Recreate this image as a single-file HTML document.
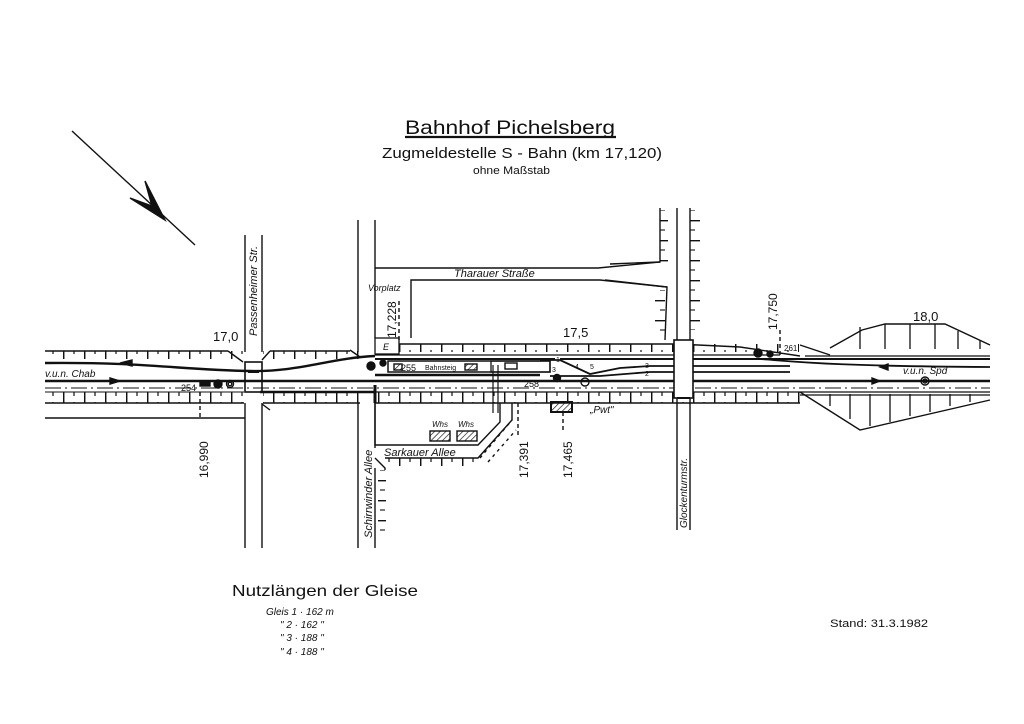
<!DOCTYPE html>
<html><head><meta charset="utf-8"><style>
html,body{margin:0;padding:0;background:#fff}
svg{display:block}
text{font-family:"Liberation Sans",sans-serif;fill:#111}
.i{font-style:italic}
</style></head><body>
<svg width="1024" height="724" viewBox="0 0 1024 724" xmlns="http://www.w3.org/2000/svg">
<defs>
<pattern id="tb" width="21" height="10" patternUnits="userSpaceOnUse">
<line x1="0.7" y1="0" x2="0.7" y2="10" stroke="#111" stroke-width="1.5"/>
<line x1="11" y1="0" x2="11" y2="4" stroke="#111" stroke-width="1.2"/>
</pattern>
<pattern id="bb" width="21" height="11" patternUnits="userSpaceOnUse">
<line x1="0.7" y1="0" x2="0.7" y2="11" stroke="#111" stroke-width="1.5"/>
<line x1="11" y1="6" x2="11" y2="11" stroke="#111" stroke-width="1.2"/>
</pattern>
<pattern id="vt" width="10" height="20" patternUnits="userSpaceOnUse">
<line x1="0" y1="0.7" x2="10" y2="0.7" stroke="#111" stroke-width="1.4"/>
<line x1="0" y1="10" x2="5" y2="10" stroke="#111" stroke-width="1.1"/>
</pattern>
<pattern id="hat" width="4" height="4" patternUnits="userSpaceOnUse" patternTransform="rotate(45)">
<line x1="0" y1="0" x2="0" y2="4" stroke="#111" stroke-width="1.3"/>
</pattern>
</defs>
<g stroke="#111" fill="none" stroke-width="1.4">

<line x1="405" y1="137" x2="616" y2="137" stroke-width="2.2"/>
<line x1="72" y1="131" x2="195" y2="245"/>
<path d="M130 198 L165 220 L145 181 L152 206 Z" fill="#111"/>

<rect x="45" y="351" width="315" height="8" fill="url(#tb)" stroke="none"/>
<line x1="45" y1="351" x2="228" y2="351"/>
<line x1="270" y1="351" x2="350" y2="351"/>
<rect x="45" y="392" width="315" height="11" fill="url(#bb)" stroke="none"/>
<line x1="45" y1="403" x2="360" y2="403"/>
<line x1="45" y1="392" x2="360" y2="392" stroke-width="1"/>
<rect x="244" y="345" width="19" height="62" fill="#fff" stroke="none"/>
<path d="M228 351 L243 362 M270 351 L262 360 M350 350 L360 357"/>
<path d="M262 404 L270 410" />

<path d="M45 363 C150 362 180 370 250 371 C300 372 330 358 375 356" stroke-width="2.4"/>
<path d="M45 381 L375 381" stroke-width="2.4"/>
<path d="M45 388 L990 388" stroke-dasharray="16,4,2,4" stroke-width="1.1"/>
<path d="M260 392 L375 392" stroke-width="2.5"/>
<path d="M120 363 l12 -3 v6 z M120 381 l-10 -3 v6 z" fill="#111"/>

<line x1="245" y1="235" x2="245" y2="352"/>
<line x1="262" y1="235" x2="262" y2="352"/>
<line x1="245" y1="403" x2="245" y2="548"/>
<line x1="262" y1="403" x2="262" y2="548"/>
<rect x="245" y="362" width="17" height="30" stroke-width="1.6"/>
<line x1="248" y1="372" x2="259" y2="372" stroke-width="2"/>
<line x1="248" y1="381" x2="259" y2="381" stroke-width="2"/>
<path d="M45 418 L245 418"/>
<line x1="200" y1="392" x2="200" y2="420" stroke-dasharray="4,3"/>
<circle cx="218" cy="384" r="4" fill="#111"/>
<circle cx="230" cy="384" r="3.5"/><circle cx="230" cy="384" r="1.8"/>
<rect x="200" y="381" width="10" height="5" fill="#111"/>

<line x1="358" y1="220" x2="358" y2="352"/>
<line x1="375" y1="220" x2="375" y2="338"/>
<line x1="358" y1="403" x2="358" y2="548"/>
<line x1="375" y1="403" x2="375" y2="448"/>
<line x1="375" y1="468" x2="375" y2="548"/>
<rect x="375" y="338" width="24" height="16" stroke-width="1.3"/>
<circle cx="371" cy="366" r="4" fill="#111"/>
<circle cx="383" cy="363" r="3" fill="#111"/>
<line x1="375" y1="385" x2="375" y2="403" stroke-width="3"/>
<line x1="399" y1="340" x2="399" y2="300" stroke-dasharray="4,3"/>

<path d="M375 268 L598 268 L660 262 L660 208"/>
<path d="M411 338 L411 280 L600 280 L667 287 L665 340"/>
<rect x="660" y="210" width="8" height="55" fill="url(#vt)" stroke="none"/>
<rect x="655" y="290" width="10" height="50" fill="url(#vt)" stroke="none"/>
<path d="M610 264 L660 262 M605 280 L667 287" />

<rect x="399" y="344" width="400" height="8" fill="url(#tb)" stroke="none"/>
<path d="M399 344 L677 344 L740 347 L800 356"/>
<path d="M375 355 L780 355" stroke-width="1.3"/>
<rect x="388" y="361" width="162" height="11" stroke-width="1.5"/>
<rect x="491" y="361" width="59" height="11" stroke-width="1.3"/>
<rect x="505" y="363" width="12" height="6"/>
<rect x="394" y="364" width="8" height="6" fill="url(#hat)"/>
<rect x="465" y="364" width="12" height="6" fill="url(#hat)"/>
<path d="M375 359 L555 359" stroke-width="2"/>
<path d="M375 375 L540 375" stroke-width="2.5"/>
<path d="M540 360 L560 360 L590 374 L620 368 L650 366 L790 366" stroke-width="1.8"/>
<path d="M550 376 L600 376 L650 372 L790 372" stroke-width="1.8"/>
<path d="M560 359 L990 359" stroke-width="2"/>
<path d="M375 381 L990 381" stroke-width="2.4"/>
<path d="M760 359 C800 362 830 366 990 367" stroke-width="1.8"/>
<path d="M880 367 l8 -3 v6 z M880 381 l-8 -3 v6 z" fill="#111"/>
<circle cx="557" cy="378" r="3.5" fill="#111"/>
<circle cx="585" cy="382" r="4"/>
<circle cx="758" cy="353" r="4" fill="#111"/>
<circle cx="770" cy="354" r="3" fill="#111"/>
<circle cx="925" cy="381" r="4"/><circle cx="925" cy="381" r="2"/>
<line x1="780" y1="330" x2="780" y2="356" stroke-dasharray="4,3"/>

<rect x="375" y="392" width="425" height="11" fill="url(#bb)" stroke="none"/>
<path d="M375 403 L800 403"/>
<path d="M375 392 L990 392" stroke-width="1.3"/>
<rect x="551" y="402" width="21" height="10" fill="url(#hat)" stroke-width="2"/>
<line x1="518" y1="403" x2="518" y2="435" stroke-dasharray="4,3"/>
<line x1="563" y1="412" x2="563" y2="432" stroke-dasharray="4,3"/>

<path d="M375 403 L375 445 L478 445 L500 422 L500 403"/>
<path d="M375 458 L385 468 L385 470 M385 458 L478 458 L512 420 L512 403"/>
<rect x="380" y="458" width="100" height="8" fill="url(#bb)" stroke="none"/>
<path d="M480 458 L512 420 M488 462 L516 430" stroke-dasharray="3,4"/>
<rect x="378" y="470" width="8" height="70" fill="url(#vt)" stroke="none"/>
<rect x="430" y="431" width="20" height="10" fill="url(#hat)"/>
<rect x="457" y="431" width="20" height="10" fill="url(#hat)"/>
<path d="M493 365 L493 413 M498 365 L498 413" stroke-width="1.2"/>

<line x1="677" y1="208" x2="677" y2="530"/>
<line x1="690" y1="208" x2="690" y2="530"/>
<rect x="690" y="210" width="10" height="120" fill="url(#vt)" stroke="none"/>
<rect x="674" y="340" width="19" height="58" fill="#fff" stroke-width="1.6"/>
<line x1="677" y1="398" x2="690" y2="398" stroke-width="2"/>

<path d="M830 348 L862 330 L885 324 L945 324 L990 345"/>
<path d="M800 345 L830 355" />
<path d="M800 392 L860 430 L990 400"/>
<g stroke-width="1.3">
<path d="M860 327v22 M885 324v25 M910 324v25 M935 324v25 M958 331v18 M980 340v9"/>
<path d="M830 394v12 M850 394v25 M870 394v32 M890 394v28 M910 394v22 M930 394v18 M950 394v12 M970 394v8"/>
</g>
<path d="M805 356 L990 356 M800 395 L990 395" stroke-width="1.2"/>
</g>

<text x="405" y="134" font-size="19" textLength="210" lengthAdjust="spacingAndGlyphs">Bahnhof Pichelsberg</text>
<text x="382" y="158" font-size="15" textLength="280" lengthAdjust="spacingAndGlyphs">Zugmeldestelle S - Bahn (km 17,120)</text>
<text x="473" y="174" font-size="11" textLength="77" lengthAdjust="spacingAndGlyphs">ohne Maßstab</text>
<text x="213" y="341" font-size="13">17,0</text>
<text x="563" y="337" font-size="13">17,5</text>
<text x="913" y="321" font-size="13">18,0</text>
<text x="454" y="277" font-size="11" class="i">Tharauer Straße</text>
<text x="368" y="291" font-size="9" class="i">Vorplatz</text>
<text x="383" y="350" font-size="9" class="i">E</text>
<text x="45" y="377" font-size="10" class="i">v.u.n. Chab</text>
<text x="903" y="374" font-size="10" class="i">v.u.n. Spd</text>
<text x="181" y="391" font-size="9">254</text>
<text x="401" y="371" font-size="9">255</text>
<text x="425" y="370" font-size="7">Bahnsteig</text>
<text x="524" y="387" font-size="9">258</text>
<text x="784" y="351" font-size="8">261</text>
<text x="590" y="413" font-size="10" class="i">„Pwt"</text>
<text x="432" y="427" font-size="8" class="i">Whs</text>
<text x="458" y="427" font-size="8" class="i">Whs</text>
<text x="384" y="456" font-size="11" class="i">Sarkauer Allee</text>
<text x="556" y="362" font-size="7">1</text>
<text x="575" y="369" font-size="7">4</text>
<text x="590" y="369" font-size="7">5</text>
<text x="552" y="372" font-size="7">3</text>
<text x="645" y="368" font-size="7">3</text>
<text x="645" y="376" font-size="7">2</text>
<text font-size="11" class="i" transform="translate(257,336) rotate(-90)">Passenheimer Str.</text>
<text font-size="11" class="i" transform="translate(372,538) rotate(-90)">Schirrwinder Allee</text>
<text font-size="10" class="i" transform="translate(687,528) rotate(-90)">Glockenturmstr.</text>
<text font-size="12" transform="translate(396,338) rotate(-90)">17,228</text>
<text font-size="12" transform="translate(208,478) rotate(-90)">16,990</text>
<text font-size="12" transform="translate(528,478) rotate(-90)">17,391</text>
<text font-size="12" transform="translate(572,478) rotate(-90)">17,465</text>
<text font-size="12" transform="translate(777,330) rotate(-90)">17,750</text>
<text x="232" y="596" font-size="16" textLength="186" lengthAdjust="spacingAndGlyphs">Nutzlängen der Gleise</text>
<text x="266" y="615" font-size="10" class="i">Gleis  1 · 162 m</text>
<text x="280" y="628" font-size="10" class="i">"     2 · 162 "</text>
<text x="280" y="641" font-size="10" class="i">"     3 · 188 "</text>
<text x="280" y="655" font-size="10" class="i">"     4 · 188 "</text>
<text x="830" y="627" font-size="11" textLength="98" lengthAdjust="spacingAndGlyphs">Stand: 31.3.1982</text>
</svg>
</body></html>
